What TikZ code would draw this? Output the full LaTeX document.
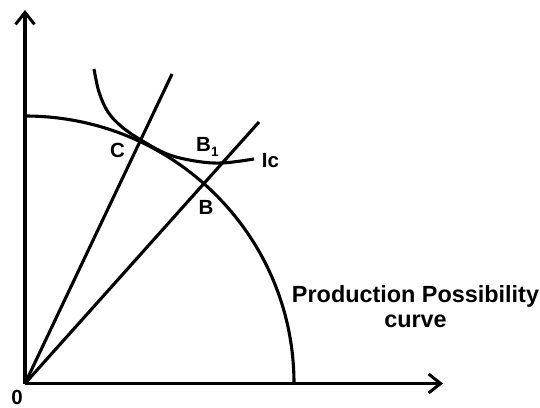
\documentclass[tikz,border=0pt]{standalone}
\usepackage{fontspec}
\setmainfont{Liberation Sans}
\usetikzlibrary{arrows.meta}
\tikzset{
  curveline/.style={line width=3.1pt, line cap=butt},
  axisline/.style={line width=3.3pt, -{Straight Barb[length=12pt,width=19pt,line width=3pt]}},
  lbl/.style={font=\bfseries\fontsize{20.5}{24}\selectfont, inner sep=0pt, anchor=base},
  bigl/.style={font=\bfseries\fontsize{23.4}{27}\selectfont, inner sep=0pt, anchor=base}
}
\begin{document}
\begin{tikzpicture}[x=1pt,y=-1pt]
\path[use as bounding box, fill=white] (0,0) rectangle (540,407);
% coordinates
\coordinate (O) at (25,383.5);
\coordinate (ytop) at (25,10);
\coordinate (xend) at (443,383.5);
\coordinate (ppcTop) at (25,116);
\coordinate (ppcEnd) at (294,383.5);
\coordinate (cTop) at (172,74);
\coordinate (bTop) at (259,122);
% axes
\draw[axisline] (O) -- (ytop);
\draw[axisline] (O) -- (xend);
% rays
\draw[curveline] (O) -- (cTop);
\draw[curveline] (O) -- (bTop);
% production possibility curve
\draw[curveline] (ppcTop) .. controls (173.6,116) and (294,235.5) .. (ppcEnd);
% indifference curve
\draw[curveline] plot[smooth, tension=0.6] coordinates {(94,69) (99,92) (108,112) (122,127) (141,140) (167,154) (195,161) (222,163) (254,159)};
% labels
\node[lbl] (lC) at (117.5,157) {C};
\node[lbl, anchor=base west] (lB1) at (196,151) {B\raisebox{-5.5pt}{\fontsize{13.5}{14}\selectfont 1}};
\node[lbl] (lIc) at (270.5,167) {Ic};
\node[lbl] (lB) at (206,214) {B};
\node[lbl] (l0) at (17,404) {0};
\node[bigl] (ppc1) at (415.5,302) {Production Possibility};
\node[bigl] (ppc2) at (415.5,327) {curve};
\end{tikzpicture}
\end{document}
